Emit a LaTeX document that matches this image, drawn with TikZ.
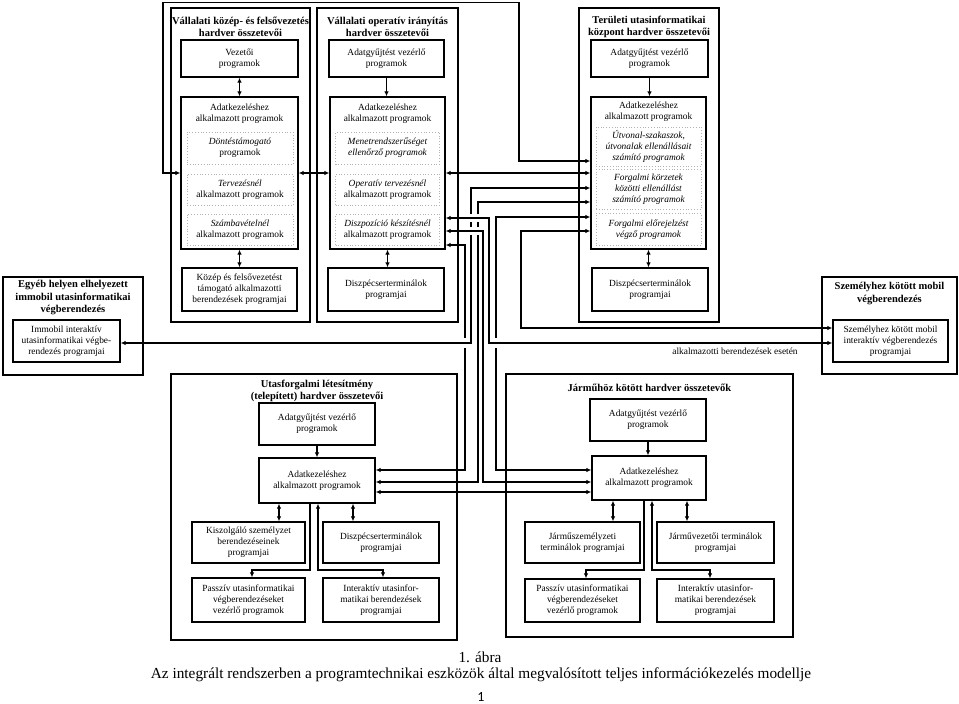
\documentclass[tikz,border=0pt]{standalone}
\usepackage{fontspec}
\setmainfont{Liberation Serif}
\newfontfamily\pgnumfont{Carlito}
\usetikzlibrary{arrows.meta}
\newcommand\smfnt{\fontsize{9.4}{11.1}\selectfont}
\newcommand\tlfnt{\fontsize{10.5}{12.5}\selectfont\bfseries}
\begin{document}
\begin{tikzpicture}[x=1pt,y=-1pt,
  outer/.style={draw, line width=2.4pt, inner sep=0pt},
  box/.style={draw, line width=1.3pt, inner sep=0pt, align=center, font=\smfnt},
  dbox/.style={draw=gray!60, dotted, line width=0.8pt, inner sep=0pt, align=center, font=\smfnt},
  lbl/.style={align=center, font=\smfnt, inner sep=0pt},
  ttl/.style={align=center, font=\tlfnt, inner sep=0pt},
  conn/.style={line width=1.3pt},
  bi/.style={conn, {Latex[length=5pt,width=4.5pt]}-{Latex[length=5pt,width=4.5pt]}},
  uni/.style={conn, -{Latex[length=5pt,width=4.5pt]}}]
\useasboundingbox (0,0) rectangle (959,704);
% level coordinates
\foreach \v in {161,173,188,202,217,218,231,245,328,343,470,482,492}{\coordinate (y\v) at (0,\v);}
\foreach \v in {252,279,310,318,353,383,586,613,644,652,687,710}{\coordinate (x\v) at (\v,0);}

% ===== column 1
\node[outer, minimum width=139pt, minimum height=314pt] (c1o) at (240.5,165) {};
\node[ttl] (c1t) at (240.5,27) {Vállalati közép- és felsővezetés\\hardver összetevői};
\node[box, minimum width=117pt, minimum height=37pt] (c1v) at (239.5,58.5) {Vezetői\\programok};
\node[box, minimum width=117pt, minimum height=152pt] (c1a) at (239.5,173) {};
\node[lbl] (c1at) at (239.5,114) {Adatkezeléshez\\alkalmazott programok};
\node[dbox, minimum width=106pt, minimum height=32pt] (c1d1) at (240,148) {\textit{Döntéstámogató}\\programok};
\node[dbox, minimum width=106pt, minimum height=31pt] (c1d2) at (240,189.5) {\textit{Tervezésnél}\\alkalmazott programok};
\node[dbox, minimum width=106pt, minimum height=31pt] (c1d3) at (240,229.5) {\textit{Számbavételnél}\\alkalmazott programok};
\node[box, minimum width=115pt, minimum height=43pt] (c1k) at (239.5,289.5) {Közép és felsővezetést\\támogató alkalmazotti\\berendezések programjai};

% ===== column 2
\node[outer, minimum width=141pt, minimum height=314pt] (c2o) at (387.5,165) {};
\node[ttl] (c2t) at (387.5,27) {Vállalati operatív irányítás\\hardver összetevői};
\node[box, minimum width=115pt, minimum height=37pt] (c2v) at (386.5,58.5) {Adatgyűjtést vezérlő\\programok};
\node[box, minimum width=115pt, minimum height=152pt] (c2a) at (387.5,173) {};
\node[lbl] (c2at) at (387.5,114) {Adatkezeléshez\\alkalmazott programok};
\node[dbox, minimum width=104pt, minimum height=32pt, font=\smfnt\itshape] (c2d1) at (387.5,148) {Menetrendszerűséget\\ellenőrző programok};
\node[dbox, minimum width=104pt, minimum height=31pt] (c2d2) at (387.5,189.5) {\textit{Operatív tervezésnél}\\alkalmazott programok};
\node[dbox, minimum width=104pt, minimum height=31pt] (c2d3) at (387.5,229.5) {\textit{Diszpozíció készítésnél}\\alkalmazott programok};
\node[box, minimum width=116pt, minimum height=43pt] (c2k) at (386,289.5) {Diszpécserterminálok\\programjai};

% ===== column 3
\node[outer, minimum width=140pt, minimum height=314pt] (c3o) at (649,165) {};
\node[ttl] (c3t) at (649,27) {Területi utasinformatikai\\központ hardver összetevői};
\node[box, minimum width=117pt, minimum height=37pt] (c3v) at (649.5,58.5) {Adatgyűjtést vezérlő\\programok};
\node[box, minimum width=115pt, minimum height=152pt] (c3a) at (648.5,173) {};
\node[lbl] (c3at) at (648.5,112) {Adatkezeléshez\\alkalmazott programok};
\node[dbox, minimum width=105pt, minimum height=39pt, font=\smfnt\itshape] (c3d1) at (648.5,146.5) {Útvonal-szakaszok,\\útvonalak ellenállásait\\számító programok};
\node[dbox, minimum width=105pt, minimum height=40pt, font=\smfnt\itshape] (c3d2) at (648.5,189.5) {Forgalmi körzetek\\közötti ellenállást\\számító programok};
\node[dbox, minimum width=105pt, minimum height=32pt, font=\smfnt\itshape] (c3d3) at (648.5,229.5) {Forgalmi előrejelzést\\végző programok};
\node[box, minimum width=116pt, minimum height=43pt] (c3k) at (650,289.5) {Diszpécserterminálok\\programjai};

% ===== side boxes
\node[outer, minimum width=140pt, minimum height=98pt] (eo) at (73,326) {};
\node[ttl] (et) at (73,298) {Egyéb helyen elhelyezett\\immobil utasinformatikai\\végberendezés};
\node[box, minimum width=107pt, minimum height=42pt] (imi) at (66.5,341) {Immobil interaktív\\utasinformatikai végbe-\\rendezés programjai};

\node[outer, minimum width=135pt, minimum height=97pt] (so) at (889.5,325.5) {};
\node[ttl] (st) at (889.5,293.5) {Személyhez kötött mobil\\végberendezés};
\node[box, minimum width=115pt, minimum height=42pt] (smi) at (890.5,341) {Személyhez kötött mobil\\interaktív végberendezés\\programjai};
\node[lbl] (lab) at (735,351.5) {alkalmazotti berendezések esetén};

% ===== bottom left
\node[outer, minimum width=286pt, minimum height=266pt] (uo) at (314,507) {};
\node[ttl] (ut) at (317,391) {Utasforgalmi létesítmény\\(telepített) hardver összetevői};
\node[box, minimum width=116pt, minimum height=42pt] (uv) at (317,424) {Adatgyűjtést vezérlő\\programok};
\node[box, minimum width=116pt, minimum height=45pt] (ua) at (317,480.5) {Adatkezeléshez\\alkalmazott programok};
\node[box, minimum width=113pt, minimum height=41pt] (uk) at (248.5,542.5) {Kiszolgáló személyzet\\berendezéseinek\\programjai};
\node[box, minimum width=116pt, minimum height=41pt] (ud) at (381,542.5) {Diszpécserterminálok\\programjai};
\node[box, minimum width=113pt, minimum height=44pt] (up) at (248.5,600) {Passzív utasinformatikai\\végberendezéseket\\vezérlő programok};
\node[box, minimum width=116pt, minimum height=44pt] (ui) at (381,600) {Interaktív utasinfor-\\matikai berendezések\\programjai};

% ===== bottom right
\node[outer, minimum width=287pt, minimum height=263pt] (jo) at (649.5,505.5) {};
\node[ttl] (jt) at (649.5,388) {Járműhöz kötött hardver összetevők};
\node[box, minimum width=116pt, minimum height=42pt] (jv) at (648,420) {Adatgyűjtést vezérlő\\programok};
\node[box, minimum width=114pt, minimum height=44pt] (ja) at (649,478) {Adatkezeléshez\\alkalmazott programok};
\node[box, minimum width=115pt, minimum height=41pt] (js) at (582.5,542.5) {Járműszemélyzeti\\terminálok programjai};
\node[box, minimum width=117pt, minimum height=41pt] (jd) at (715.5,542.5) {Járművezetői terminálok\\programjai};
\node[box, minimum width=115pt, minimum height=43pt] (jp) at (582.5,600.5) {Passzív utasinformatikai\\végberendezéseket\\vezérlő programok};
\node[box, minimum width=117pt, minimum height=43pt] (ji) at (715.5,600.5) {Interaktív utasinfor-\\matikai berendezések\\programjai};

% ===== caption
\node[inner sep=0pt, font=\fontsize{15.3}{18}\selectfont] (cap1) at (480,657) {1. ábra};
\node[inner sep=0pt, font=\fontsize{15.3}{18}\selectfont] (cap2) at (481,675) {Az integrált rendszerben a programtechnikai eszközök által megvalósított teljes információkezelés modellje};
\node[inner sep=0pt, font=\pgnumfont\fontsize{14}{16}\selectfont] (pg) at (481,697) {1};

% ===== vertical links inside columns
\draw[bi] (c1v) -- (c1a);
\draw[uni] (c2v.south) -- (c2v.south |- c2a.north);
\draw[uni] (c3v.south) -- (c3v.south |- c3a.north);
\draw[bi] (c1a.south -| c1k.north) -- (c1k.north);
\draw[bi] (c2a.south) -- (c2a.south |- c2k.north);
\draw[bi] (c3a.south) -- (c3a.south |- c3k.north);
\draw[uni] (uv) -- (ua);
\draw[uni] (jv.south) -- (jv.south |- ja.north);

% ===== links between columns
\draw[bi] (c1a.west |- y173) -| (163,2.5) -| (519,161) -- (c3a.west |- y161);
\draw[bi] (c1a.east |- y173) -- (c2a.west |- y173);
\draw[bi] (c2a.east |- y173) -- (c3a.west |- y173);

% bus lines
\draw[bi] (c2a.east |- y245) -| (465,470) -- (ua.east |- y470);
\draw[bi] (c3a.west |- y217) -| (496,470) -- (ja.west |- y470);
\draw[bi] (c3a.west |- y202) -| (478,482) -- (ua.east |- y482);
\fill[white] (461,338) rectangle (469,348);
\fill[white] (492,338) rectangle (500,348);
\draw[bi] (c3a.west |- y188) -| (471,343) -- (imi.east |- y343);
\fill[white] (467.5,214) rectangle (481.5,222);
\fill[white] (467.5,227) rectangle (481.5,235);
\draw[bi] (c2a.east |- y218) -| (489,343) -- (smi.west |- y343);
\draw[bi] (c2a.east |- y231) -| (483,482) -- (ja.west |- y482);
\draw[bi] (c3a.west |- y231) -| (521,328) -- (smi.west |- y328);
\draw[bi] (ua.east |- y492) -- (ja.west |- y492);

% ===== bottom left internal links
\draw[bi] (ua.south -| x279) -- (uk.north -| x279);
\draw[uni] (ua.south -| x310) |- (252,570) -- (up.north -| x252);
\draw[bi] (ua.south -| x318) |- (383,570) -- (ui.north -| x383);
\draw[bi] (ua.south -| x353) -- (ud.north -| x353);

% ===== bottom right internal links
\draw[bi] (ja.south -| x613) -- (js.north -| x613);
\draw[uni] (ja.south -| x644) |- (586,570) -- (jp.north -| x586);
\draw[bi] (ja.south -| x652) |- (710,570) -- (ji.north -| x710);
\draw[bi] (ja.south -| x687) -- (jd.north -| x687);
\end{tikzpicture}
\end{document}
